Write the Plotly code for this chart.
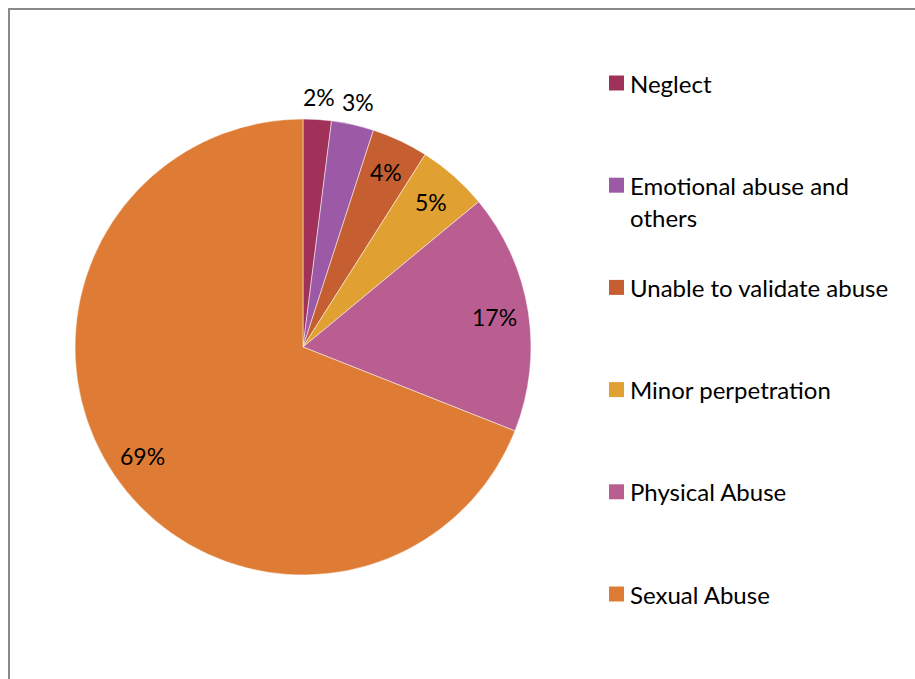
import math
import textwrap
import plotly.graph_objects as go

# Share of cases by category (percent)
categories = ["Neglect", "Emotional abuse and others", "Unable to validate abuse",
              "Minor perpetration", "Physical Abuse", "Sexual Abuse"]
shares = [2, 3, 4, 5, 17, 69]
colors = ["#A0325A", "#9B59A6", "#C55F32", "#E0A132", "#BA5E92", "#DE7C35"]

W, H = 915, 679
CX, CY, R = 303, 347, 228          # pie centre and radius in pixels
LABEL_FONT = dict(family="Lato, Calibri, sans-serif", size=23, color="#000000")
LEGEND_FONT = dict(family="Lato, Calibri, sans-serif", size=24, color="#000000")

fig = go.Figure(go.Pie(
    labels=categories,
    values=shares,
    marker=dict(colors=colors, line=dict(color="#FFFFFF", width=0.5)),
    sort=False,
    direction="clockwise",
    rotation=0,
    textinfo="none",
    hoverinfo="label+percent",
    showlegend=False,
    domain=dict(x=[(CX - R) / W, (CX + R) / W],
                y=[1 - (CY + R) / H, 1 - (CY - R) / H]),
))

annotations = []
shapes = []

# Percentage labels placed at each slice's mid-angle
total = sum(shares)
cum = 0
for v in shares:
    mid = (cum + v / 2) / total * 2 * math.pi
    cum += v
    rf = 1.10 if v <= 3 else 0.85
    px = CX + rf * R * math.sin(mid)
    py = CY - rf * R * math.cos(mid)
    annotations.append(dict(
        x=px / W, y=1 - py / H, xref="paper", yref="paper",
        text=f"{round(v / total * 100)}%", showarrow=False,
        xanchor="center", yanchor="middle", font=LABEL_FONT))

# Legend: coloured squares with wrapped labels
ROW0, STEP, LINE = 83, 102.2, 32
SQ_X, SQ = 609, 15
TXT_X = 628
for i, (name, col) in enumerate(zip(categories, colors)):
    ry = ROW0 + i * STEP
    shapes.append(dict(type="rect", xref="paper", yref="paper",
                       x0=SQ_X / W, x1=(SQ_X + SQ) / W,
                       y0=1 - (ry + SQ / 2) / H, y1=1 - (ry - SQ / 2) / H,
                       fillcolor=col, line=dict(width=0)))
    for k, line in enumerate(textwrap.wrap(name, 24)):
        annotations.append(dict(
            x=TXT_X / W, y=1 - (ry + k * LINE) / H, xref="paper", yref="paper",
            text=line, showarrow=False, xanchor="left", yanchor="middle",
            font=LEGEND_FONT))

# Chart area frame
shapes.append(dict(type="rect", xref="paper", yref="paper",
                   x0=9 / W, x1=1.05, y0=-0.05, y1=1 - 9 / H,
                   line=dict(color="#898989", width=2), fillcolor="rgba(0,0,0,0)"))

fig.update_layout(
    width=W, height=H,
    margin=dict(l=0, r=0, t=0, b=0),
    paper_bgcolor="#FFFFFF",
    plot_bgcolor="#FFFFFF",
    annotations=annotations,
    shapes=shapes,
)

fig.write_html("out.html")
